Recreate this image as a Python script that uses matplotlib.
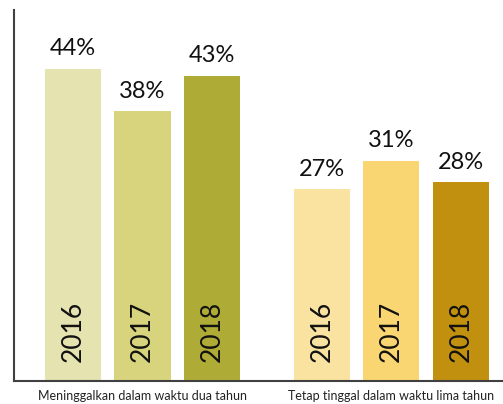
import matplotlib.pyplot as plt

# data
groups = ['Meninggalkan dalam waktu dua tahun', 'Tetap tinggal dalam waktu lima tahun']
years = ['2016', '2017', '2018']
leave_vals = [44, 38, 43]
stay_vals = [27, 31, 28]
leave_colors = ['#E5E3AF', '#D8D47D', '#AFAB37']
stay_colors = ['#FAE3A0', '#F9D672', '#C1900F']

plt.rcParams['font.family'] = ['Lato', 'DejaVu Sans']

fig = plt.figure(figsize=(5.03, 4.04), dpi=100)
ax = fig.add_axes([14 / 503, 23 / 404, 489 / 503, 371 / 404])

group_start = [0.0, 3.58]
width = 0.806

for g, (vals, cols) in enumerate([(leave_vals, leave_colors), (stay_vals, stay_colors)]):
    xs = [group_start[g] + i for i in range(len(vals))]
    ax.bar(xs, vals, width=width, color=cols)
    for x, v, yr in zip(xs, vals, years):
        # percent on top
        ax.annotate(f'{v}%', (x, v), xytext=(0, 7), textcoords='offset points',
                    ha='center', va='bottom', fontsize=17, color='#111111')
        # year inside bar, rotated
        ax.annotate(yr, (x, 0), xytext=(0, 14), textcoords='offset points',
                    ha='center', va='bottom', rotation=90, fontsize=19,
                    color='#111111')
    # group label under the axis
    ax.annotate(groups[g], (xs[1], 0), xytext=(0, -10.5), textcoords='offset points',
                ha='center', va='center', fontsize=9, color='#222222')

ax.set_xlim(-0.849, 6.187)
ax.set_ylim(0, 52.3)
ax.set_xticks([])
ax.set_yticks([])
for s in ['top', 'right']:
    ax.spines[s].set_visible(False)
for s in ['left', 'bottom']:
    ax.spines[s].set_color('#404040')
    ax.spines[s].set_linewidth(1.5)

fig.savefig('out.png', dpi=100)
